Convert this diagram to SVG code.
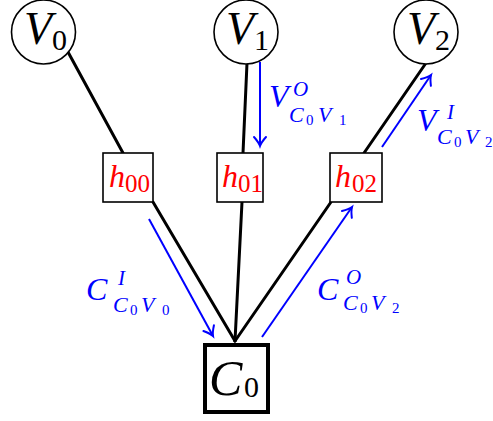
<svg xmlns="http://www.w3.org/2000/svg" width="493" height="421" viewBox="0 0 493 421">
<style>
.edge{stroke:#000;stroke-width:3;fill:none;stroke-linecap:round}
.arr{stroke:#0000ff;stroke-width:2;fill:none;marker-end:url(#ah)}
.vn{fill:#fff;stroke:#000;stroke-width:1.6}
.hn{fill:#fff;stroke:#000;stroke-width:1.6}
.cn{fill:#fff;stroke:#000;stroke-width:4}
.it{font-family:"Liberation Serif",serif;font-style:italic}
.rm{font-family:"Liberation Serif",serif;font-style:normal}
.red{fill:#ff0000}
.blue{fill:#0000ff}
</style>
<defs>
<marker id="ah" markerUnits="userSpaceOnUse" viewBox="-12 -10 20 20" markerWidth="20" markerHeight="20" refX="0" refY="0" orient="auto">
<path d="M -9 -6 Q -3.5 -1.2 0 0 Q -3.5 1.2 -9 6" stroke="#0000ff" stroke-width="2" fill="none" stroke-linecap="round"/>
</marker>
</defs>
<g id="connectors">
<line class="edge" x1="68" y1="52" x2="123" y2="153"/>
<line class="edge" x1="153" y1="202" x2="235" y2="341"/>
<line class="edge" x1="247" y1="63" x2="243" y2="153"/>
<line class="edge" x1="242" y1="202" x2="235" y2="341"/>
<line class="edge" x1="426" y1="63" x2="364" y2="153"/>
<line class="edge" x1="331" y1="202" x2="235" y2="341"/>
<line class="arr" x1="260" y1="62" x2="260" y2="146"/>
<line class="arr" x1="382" y1="147" x2="431" y2="75"/>
<line class="arr" x1="149" y1="219" x2="213" y2="336"/>
<line class="arr" x1="262" y1="337" x2="352" y2="207"/>
</g>
<g id="V0">
<circle class="vn" cx="43.5" cy="32" r="32"/>
<text class="it" x="24" y="44" font-size="46">V</text><text class="rm" x="52" y="50" font-size="30">0</text>
</g>
<g id="V1">
<circle class="vn" cx="246" cy="32" r="32"/>
<text class="it" x="226" y="44" font-size="46">V</text><text class="rm" x="254" y="50" font-size="30">1</text>
</g>
<g id="V2">
<circle class="vn" cx="426" cy="32" r="32"/>
<text class="it" x="407" y="44" font-size="46">V</text><text class="rm" x="435" y="50" font-size="30">2</text>
</g>
<g id="h00">
<rect class="hn" x="103" y="153" width="50" height="49"/>
<text class="it red" x="109" y="187" font-size="32">h</text><text class="rm red" x="125" y="192" font-size="25">00</text>
</g>
<g id="h01">
<rect class="hn" x="217" y="153" width="46" height="49"/>
<text class="it red" x="222" y="187" font-size="32">h</text><text class="rm red" x="238" y="192" font-size="25">01</text>
</g>
<g id="h02">
<rect class="hn" x="330" y="153" width="52" height="49"/>
<text class="it red" x="335" y="187" font-size="32">h</text><text class="rm red" x="352" y="192" font-size="25">02</text>
</g>
<g id="C0">
<rect class="cn" x="205" y="345" width="63" height="67"/>
<text class="it" x="209" y="395" font-size="50">C</text><text class="rm" x="244" y="397" font-size="30">0</text>
</g>
<g id="labels">
<g class="blue">
<text class="it" x="269" y="107" font-size="32">V</text>
<text class="it" x="293" y="96" font-size="21">O</text>
<text class="it" x="289" y="122" font-size="22">C</text>
<text class="rm" x="306" y="125" font-size="15">0</text>
<text class="it" x="318" y="122" font-size="22">V</text>
<text class="rm" x="339" y="125" font-size="15">1</text>

<text class="it" x="417" y="131" font-size="32">V</text>
<text class="it" x="447" y="119" font-size="21">I</text>
<text class="it" x="437" y="144" font-size="22">C</text>
<text class="rm" x="454" y="147" font-size="15">0</text>
<text class="it" x="465" y="144" font-size="22">V</text>
<text class="rm" x="485" y="147" font-size="15">2</text>

<text class="it" x="86" y="300" font-size="32">C</text>
<text class="it" x="118" y="285" font-size="21">I</text>
<text class="it" x="113" y="312" font-size="22">C</text>
<text class="rm" x="130" y="315" font-size="15">0</text>
<text class="it" x="141" y="312" font-size="22">V</text>
<text class="rm" x="162" y="315" font-size="15">0</text>

<text class="it" x="317" y="300" font-size="32">C</text>
<text class="it" x="346" y="284" font-size="21">O</text>
<text class="it" x="343" y="310" font-size="22">C</text>
<text class="rm" x="360" y="313" font-size="15">0</text>
<text class="it" x="371" y="310" font-size="22">V</text>
<text class="rm" x="392" y="313" font-size="15">2</text>
</g>
</g>
</svg>
